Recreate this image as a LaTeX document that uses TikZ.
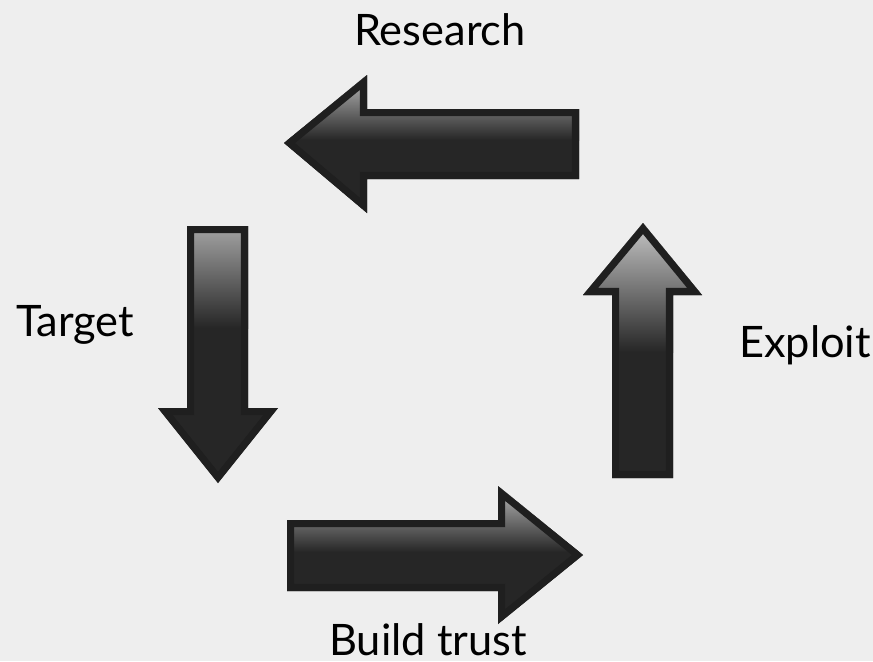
\documentclass[tikz,border=0pt]{standalone}
\usepackage{fontspec}
\setmainfont{Lato}
\definecolor{bgcol}{HTML}{EEEEEE}
\definecolor{arrowfill}{HTML}{262626}
\definecolor{arrowedge}{HTML}{1F1F1F}
\definecolor{glosstop}{HTML}{C4C4C4}
\definecolor{glossmid}{HTML}{7C7C7C}
\tikzset{
  label text/.style={font=\fontsize{37pt}{40pt}\selectfont, text=black, anchor=base, inner sep=0pt},
}
% #1 outline, #2 top of gloss, #3 bottom of gloss
\newcommand{\glossarrow}[3]{%
  \fill[arrowfill] #1;
  \begin{scope}
    \clip #1;
    \shade[top color=glosstop, middle color=glossmid, bottom color=arrowfill] (0,#2) rectangle (873,#3);
    \draw[arrowedge, line width=12pt, line join=miter] #1;
  \end{scope}
}
\begin{document}
\begin{tikzpicture}[x=0.03cm,y=-0.03cm]
\fill[bgcol] (0,0) rectangle (873,661);
% Research (pointing left)
\glossarrow{(284,143) -- (367,75) -- (367,109) -- (579,109) -- (579,179) -- (367,179) -- (367,213) -- cycle}{72}{140}
% Target (pointing down)
\glossarrow{(187,226) -- (248,226) -- (248,408) -- (278,408) -- (218,483) -- (158,408) -- (187,408) -- cycle}{200}{328}
% Build trust (pointing right)
\glossarrow{(287,520) -- (498,520) -- (498,486) -- (583,555) -- (498,624) -- (498,591) -- (287,591) -- cycle}{483}{552}
% Exploit (pointing up)
\glossarrow{(643,223) -- (702,295) -- (673,295) -- (673,478) -- (612,478) -- (612,295) -- (583,295) -- cycle}{225}{352}
\node[label text] (research) at (440,45) {Research};
\node[label text] (target) at (75,336) {Target};
\node[label text] (exploit) at (805,357) {Exploit};
\node[label text] (buildtrust) at (428,655) {Build trust};
\end{tikzpicture}
\end{document}
